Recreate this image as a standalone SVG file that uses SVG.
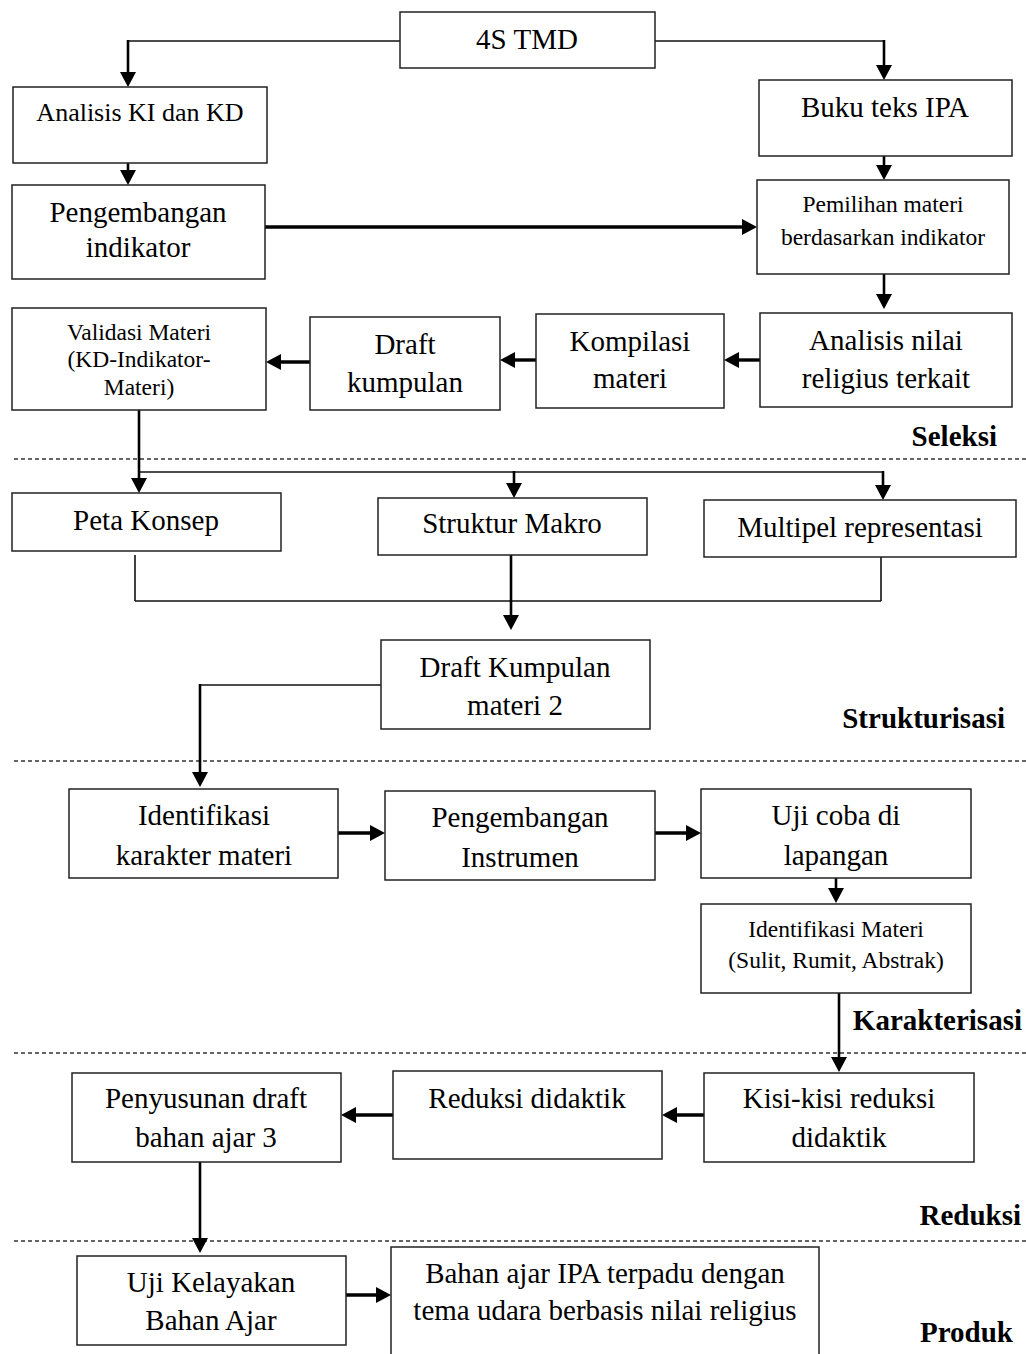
<svg xmlns="http://www.w3.org/2000/svg" width="1026" height="1354" viewBox="0 0 1026 1354">
<style>
.box{fill:#fff;stroke:#222;stroke-width:1.5}
.t{font-family:"Liberation Serif","Times New Roman",serif;font-size:29px;fill:#000;text-anchor:middle}
.s{font-size:23.5px}
.m{font-size:26px}
.lbl{font-family:"Liberation Serif","Times New Roman",serif;font-size:29px;font-weight:bold;fill:#000;text-anchor:end}
.thin{stroke:#111;stroke-width:1.6;fill:none}
.a{stroke:#000;stroke-width:2.6;fill:none;marker-end:url(#ah)}
.a3{stroke:#000;stroke-width:3.4;fill:none;marker-end:url(#ah)}
.dash{stroke:#333;stroke-width:1.3;stroke-dasharray:4 3;fill:none}
</style>
<defs>
<marker id="ah" viewBox="0 0 15 16" markerWidth="15" markerHeight="16" refX="10" refY="8" orient="auto" markerUnits="userSpaceOnUse">
<path d="M0,0 L15,8 L0,16 Z" fill="#000"/>
</marker>
</defs>
<rect width="1026" height="1354" fill="#fff"/>

<g id="separators">
<line class="dash" x1="14" y1="459" x2="1026" y2="459"/>
<line class="dash" x1="14" y1="761" x2="1026" y2="761"/>
<line class="dash" x1="14" y1="1053" x2="1026" y2="1053"/>
<line class="dash" x1="14" y1="1241" x2="1026" y2="1241"/>
<text class="lbl" x="997" y="446">Seleksi</text>
<text class="lbl" x="1005" y="728">Strukturisasi</text>
<text class="lbl" x="1022" y="1030">Karakterisasi</text>
<text class="lbl" x="1021" y="1225">Reduksi</text>
<text class="lbl" x="1013" y="1342">Produk</text>
</g>

<g id="connectors">
<line class="thin" x1="400" y1="41" x2="128" y2="41"/>
<line class="a" x1="128" y1="40" x2="128" y2="82"/>
<line class="thin" x1="655" y1="41" x2="884" y2="41"/>
<line class="a" x1="884" y1="40" x2="884" y2="75"/>
<line class="a" x1="128" y1="163" x2="128" y2="180"/>
<line class="a" x1="884" y1="156" x2="884" y2="175"/>
<line class="a3" x1="265" y1="227" x2="752" y2="227"/>
<line class="a" x1="884" y1="274" x2="884" y2="304"/>
<line class="a3" x1="760" y1="360" x2="729" y2="360"/>
<line class="a3" x1="536" y1="360" x2="505" y2="360"/>
<line class="a3" x1="310" y1="362" x2="271" y2="362"/>
<line class="a" x1="139" y1="410" x2="139" y2="488"/>
<line class="thin" x1="139" y1="472" x2="883" y2="472"/>
<line class="a" x1="514" y1="471" x2="514" y2="493"/>
<line class="a" x1="883" y1="471" x2="883" y2="495"/>
<line class="thin" x1="135" y1="555" x2="135" y2="601"/>
<line class="thin" x1="135" y1="601" x2="881" y2="601"/>
<line class="thin" x1="881" y1="557" x2="881" y2="601"/>
<line class="a" x1="511" y1="555" x2="511" y2="625"/>
<line class="thin" x1="381" y1="685" x2="200" y2="685"/>
<line class="a" x1="200" y1="684" x2="200" y2="782"/>
<line class="a3" x1="338" y1="833" x2="380" y2="833"/>
<line class="a3" x1="655" y1="833" x2="696" y2="833"/>
<line class="a" x1="836" y1="878" x2="836" y2="898"/>
<line class="a" x1="839" y1="993" x2="839" y2="1067"/>
<line class="a3" x1="704" y1="1115" x2="667" y2="1115"/>
<line class="a3" x1="393" y1="1115" x2="346" y2="1115"/>
<line class="a" x1="200" y1="1162" x2="200" y2="1248"/>
<line class="a3" x1="346" y1="1295" x2="386" y2="1295"/>
</g>

<g id="n-4s">
<rect class="box" x="400" y="12" width="255" height="56"/>
<text class="t" x="527" y="49">4S TMD</text>
</g>
<g id="n-analisis-ki">
<rect class="box" x="13" y="87" width="254" height="76"/>
<text class="t m" x="140" y="121">Analisis KI dan KD</text>
</g>
<g id="n-buku">
<rect class="box" x="759" y="80" width="253" height="76"/>
<text class="t" x="885" y="117">Buku teks IPA</text>
</g>
<g id="n-pengembangan-indikator">
<rect class="box" x="12" y="185" width="253" height="94"/>
<text class="t" x="138" y="222">Pengembangan</text>
<text class="t" x="138" y="257">indikator</text>
</g>
<g id="n-pemilihan">
<rect class="box" x="757" y="180" width="252" height="94"/>
<text class="t s" x="883" y="212">Pemilihan materi</text>
<text class="t s" x="883" y="245">berdasarkan indikator</text>
</g>
<g id="n-validasi">
<rect class="box" x="12" y="308" width="254" height="102"/>
<text class="t s" x="139" y="340">Validasi Materi</text>
<text class="t s" x="139" y="367">(KD-Indikator-</text>
<text class="t s" x="139" y="395">Materi)</text>
</g>
<g id="n-draft">
<rect class="box" x="310" y="317" width="190" height="93"/>
<text class="t" x="405" y="354">Draft</text>
<text class="t" x="405" y="392">kumpulan</text>
</g>
<g id="n-kompilasi">
<rect class="box" x="536" y="314" width="188" height="94"/>
<text class="t" x="630" y="351">Kompilasi</text>
<text class="t" x="630" y="388">materi</text>
</g>
<g id="n-analisis-nilai">
<rect class="box" x="760" y="313" width="252" height="94"/>
<text class="t" x="886" y="350">Analisis nilai</text>
<text class="t" x="886" y="388">religius terkait</text>
</g>
<g id="n-peta">
<rect class="box" x="12" y="493" width="269" height="58"/>
<text class="t" x="146" y="530">Peta Konsep</text>
</g>
<g id="n-struktur">
<rect class="box" x="378" y="498" width="269" height="57"/>
<text class="t" x="512" y="533">Struktur Makro</text>
</g>
<g id="n-multipel">
<rect class="box" x="704" y="500" width="312" height="57"/>
<text class="t" x="860" y="537">Multipel representasi</text>
</g>
<g id="n-draft2">
<rect class="box" x="381" y="640" width="269" height="89"/>
<text class="t" x="515" y="677">Draft Kumpulan</text>
<text class="t" x="515" y="715">materi 2</text>
</g>
<g id="n-identifikasi-karakter">
<rect class="box" x="69" y="789" width="269" height="89"/>
<text class="t" x="204" y="825">Identifikasi</text>
<text class="t" x="204" y="865">karakter materi</text>
</g>
<g id="n-pengembangan-instrumen">
<rect class="box" x="385" y="791" width="270" height="89"/>
<text class="t" x="520" y="827">Pengembangan</text>
<text class="t" x="520" y="867">Instrumen</text>
</g>
<g id="n-uji-coba">
<rect class="box" x="701" y="789" width="270" height="89"/>
<text class="t" x="836" y="825">Uji coba di</text>
<text class="t" x="836" y="865">lapangan</text>
</g>
<g id="n-identifikasi-materi">
<rect class="box" x="701" y="904" width="270" height="89"/>
<text class="t s" x="836" y="937">Identifikasi Materi</text>
<text class="t s" x="836" y="968">(Sulit, Rumit, Abstrak)</text>
</g>
<g id="n-kisi">
<rect class="box" x="704" y="1073" width="270" height="89"/>
<text class="t" x="839" y="1108">Kisi-kisi reduksi</text>
<text class="t" x="839" y="1147">didaktik</text>
</g>
<g id="n-reduksi">
<rect class="box" x="393" y="1071" width="269" height="88"/>
<text class="t" x="527" y="1108">Reduksi didaktik</text>
</g>
<g id="n-penyusunan">
<rect class="box" x="72" y="1073" width="269" height="89"/>
<text class="t" x="206" y="1108">Penyusunan draft</text>
<text class="t" x="206" y="1147">bahan ajar 3</text>
</g>
<g id="n-uji-kelayakan">
<rect class="box" x="77" y="1256" width="269" height="89"/>
<text class="t" x="211" y="1292">Uji Kelayakan</text>
<text class="t" x="211" y="1330">Bahan Ajar</text>
</g>
<g id="n-bahan">
<rect class="box" x="391" y="1247" width="428" height="120"/>
<text class="t" x="605" y="1283">Bahan ajar IPA terpadu dengan</text>
<text class="t" x="605" y="1320">tema udara berbasis nilai religius</text>
</g>
</svg>
